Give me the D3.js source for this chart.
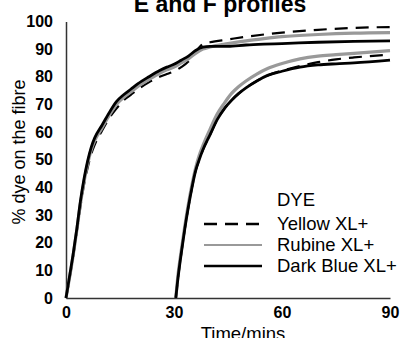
<!DOCTYPE html>
<html>
<head>
<meta charset="utf-8">
<script src="https://cdn.jsdelivr.net/npm/d3@7"></script>
<style>
	body { margin: 0; background: #fff; }
	svg { display: block; font-family: "Liberation Sans", Arial, Helvetica, sans-serif; }
</style>
</head>
<body>
<div id="chart"></div>
<script>
// profile E starts at 0 min, profile F at 30 min
const timeE = [0, 1, 2, 3, 4, 5, 6, 7, 8, 10, 12, 14, 16, 18, 20, 23, 26, 28, 30, 32, 34, 36, 38, 40, 45, 50, 55, 60, 70, 80, 90];
const yellowE = [0, 7, 15, 24, 33, 41, 47, 52, 55.5, 60.5, 65, 68.5, 71.5, 73.5, 75.5, 78, 80, 81, 82, 83.5, 85.5, 89, 91.8, 92.5, 93.5, 94.5, 95.3, 96, 97, 97.7, 98];
const rubineE = [0, 7.5, 15.5, 24.5, 34, 42, 48.5, 53.5, 57, 61.5, 66, 70, 72.5, 74.5, 76.5, 79, 81.3, 82.5, 83.5, 85, 86.5, 88.5, 90, 90.8, 92, 93, 93.8, 94.5, 95.3, 95.8, 96];
const darkBlueE = [0, 8, 16, 25, 35, 43, 49.5, 54.5, 58, 62.5, 67, 71, 73.5, 75.5, 77.5, 80, 82.3, 83.5, 84.5, 86, 87.5, 89.5, 90.7, 91, 91, 91.5, 91.8, 92, 92.5, 92.8, 93];

const timeF = [30.5, 31, 32, 33, 34, 35, 36, 37, 38, 40, 42, 44, 46, 48, 50, 53, 56, 60, 65, 70, 75, 80, 90];
const yellowF = [0, 6, 16, 25, 33, 40, 46, 50, 53.5, 59, 64.5, 68.5, 71.5, 74, 76, 78.5, 80.5, 82.2, 83.9, 85.3, 86.3, 87, 88];
const rubineF = [0, 7, 17, 26, 34, 41, 47, 51.5, 55, 61, 66.5, 70.5, 74, 76.5, 78.5, 81, 83, 84.8, 86.5, 87.5, 88, 88.5, 89.5];
const darkBlueF = [0, 6, 16, 25, 33, 40, 46, 50, 53.5, 59, 64.5, 68.5, 71.5, 74, 76, 78.5, 80.5, 82, 83.5, 84.3, 84.7, 85, 86];

const xTicks = [0, 30, 60, 90];
const yTicks = [0, 10, 20, 30, 40, 50, 60, 70, 80, 90, 100];

const seriesNames = ["Yellow XL+", "Rubine XL+", "Dark Blue XL+"];

const width = 402;
const height = 338;
const margin = { top: 21.5, right: 11, bottom: 40, left: 66 };

const styles = {
	"Yellow XL+": { stroke: "#000", width: 2.2, dash: "13,8" },
	"Rubine XL+": { stroke: "#999", width: 3.2, dash: null },
	"Dark Blue XL+": { stroke: "#000", width: 2.8, dash: null }
};

const series = [
	{ name: "Yellow XL+", profiles: [[timeE, yellowE], [timeF, yellowF]] },
	{ name: "Rubine XL+", profiles: [[timeE, rubineE], [timeF, rubineF]] },
	{ name: "Dark Blue XL+", profiles: [[timeE, darkBlueE], [timeF, darkBlueF]] }
];

const svg = d3.select("#chart").append("svg")
	.attr("width", width)
	.attr("height", height);

const x = d3.scaleLinear().domain([0, 90]).range([margin.left, width - margin.right - 1]);
const y = d3.scaleLinear().domain([0, 100]).range([height - margin.bottom, margin.top]);

// title, clipped by the top edge like the original
svg.append("text")
	.attr("x", 220)
	.attr("y", 12)
	.attr("text-anchor", "middle")
	.attr("font-size", 23)
	.attr("font-weight", "bold")
	.text("E and F profiles");

// axes
const yAxis = svg.append("g")
	.attr("transform", `translate(${margin.left},0)`)
	.call(d3.axisLeft(y).tickValues(yTicks).tickSize(0).tickPadding(13));
const xAxis = svg.append("g")
	.attr("transform", `translate(0,${height - margin.bottom})`)
	.call(d3.axisBottom(x).tickValues(xTicks).tickSize(0).tickPadding(9));

[xAxis, yAxis].forEach(g => {
	g.select(".domain").attr("stroke", "#333").attr("stroke-width", 1.5);
	g.selectAll("text")
		.attr("font-family", "Liberation Sans, Arial, sans-serif")
		.attr("font-size", 16)
		.attr("font-weight", "bold")
		.attr("fill", "#000");
});

svg.append("text")
	.attr("transform", "translate(25,152) rotate(-90)")
	.attr("text-anchor", "middle")
	.attr("font-size", 18)
	.text("% dye on the fibre");

// x title sits partly below the bottom edge, as in the original
svg.append("text")
	.attr("x", 243)
	.attr("y", 339.5)
	.attr("text-anchor", "middle")
	.attr("font-size", 18.5)
	.text("Time/mins");

// lines
const line = d3.line()
	.x(d => x(d[0]))
	.y(d => y(d[1]))
	.curve(d3.curveMonotoneX);

series.forEach(s => {
	const st = styles[s.name];
	s.profiles.forEach(([t, v]) => {
		svg.append("path")
			.datum(t.map((ti, i) => [ti, v[i]]))
			.attr("fill", "none")
			.attr("stroke", st.stroke)
			.attr("stroke-width", st.width)
			.attr("stroke-dasharray", st.dash)
			.attr("stroke-linejoin", "round")
			.attr("d", line);
	});
});

// legend
const legend = svg.append("g").attr("transform", "translate(204,200)");
legend.append("text")
	.attr("x", 73)
	.attr("dy", "0.35em")
	.attr("font-size", 18.5)
	.text("DYE");
seriesNames.forEach((name, i) => {
	const st = styles[name];
	const ly = 24 + i * 21;
	legend.append("line")
		.attr("x1", 0).attr("x2", 58)
		.attr("y1", ly).attr("y2", ly)
		.attr("stroke", st.stroke)
		.attr("stroke-width", name === "Rubine XL+" ? 2 : 2.4)
		.attr("stroke-dasharray", st.dash);
	legend.append("text")
		.attr("x", 73)
		.attr("y", ly)
		.attr("dy", "0.35em")
		.attr("font-size", 18.5)
		.text(name);
});
</script>
</body>
</html>
